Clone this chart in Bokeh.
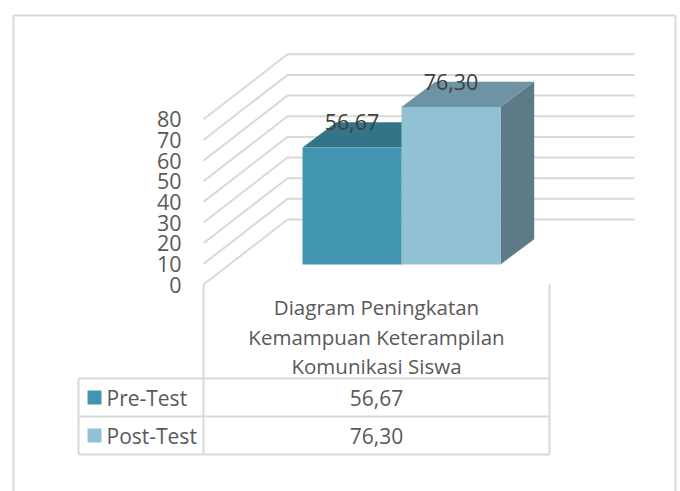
from bokeh.plotting import figure
from bokeh.models import Range1d
from bokeh.core.properties import value
from bokeh.embed import file_html
from bokeh.resources import INLINE

# ---- data ----
series_names = ["Pre-Test", "Post-Test"]
series_values = [56.67, 76.30]
series_labels = ["56,67", "76,30"]
y_ticks = [0, 10, 20, 30, 40, 50, 60, 70, 80]
category_lines = ["Diagram Peningkatan", "Kemampuan Keterampilan", "Komunikasi Siswa"]

# ---- styles / layout ----
front_colors = ["#4295B0", "#92C1D4"]
top_colors = ["#337488", "#6E94A3"]
side_colors = ["#31687A", "#5C7B87"]
GRID = "#D9D9D9"
FONT = "Open Sans"
FS = "20.5px"
FS_TICK = "21.5px"
FS_TABLE = "21px"
W, H = 680, 491
ORIGIN = 0
PX_PER_UNIT = 2.065
Y0_PX = 284.0          # picture pixel of value 0 on the axis edge


def vy(py):
    """Picture pixel row -> position in value units."""
    return (Y0_PX - py) / PX_PER_UNIT


p = figure(width=W, height=H, output_backend="svg", toolbar_location=None,
           x_range=Range1d(ORIGIN, ORIGIN + W), y_range=Range1d(vy(ORIGIN + H), vy(ORIGIN)),
           min_border=0, outline_line_color=None, background_fill_color="white",
           border_fill_color="white")
p.axis.visible = False
p.grid.visible = False

# outer frame (runs off the bottom of the picture)
fx0, fx1, fy0 = 13, 675, 15
p.line([fx0, fx0, fx1, fx1], [vy(ORIGIN + H), vy(fy0), vy(fy0), vy(ORIGIN + H)],
       line_color=GRID, line_width=2)

# gridlines with 3D depth
wall_x0, wall_x1, wall_x2 = 203, 287, 634
wall_dv = vy(219)
p.multi_line([[wall_x0, wall_x1, wall_x2] for _ in y_ticks],
             [[t, t + wall_dv, t + wall_dv] for t in y_ticks],
             line_color=GRID, line_width=2)

# bars
bar_x = [302, 401, 500]
base = vy(264)
dx, dv = 33.7, 25.3 / PX_PER_UNIT
for i, v in enumerate(series_values):
    x0, x1 = bar_x[i], bar_x[i + 1]
    top = base + v
    p.patch([x1, x1 + dx, x1 + dx, x1], [base, base + dv, top + dv, top],
            fill_color=side_colors[i], line_color=None)
    p.patch([x0, x1, x1 + dx, x0 + dx], [top, top, top + dv, top + dv],
            fill_color=top_colors[i], line_color=None)
    p.quad(left=x0, right=x1, bottom=base, top=top, fill_color=front_colors[i], line_color=None)
    p.text([(x0 + x1) / 2], [top + dv], text=[series_labels[i]], text_align="center",
           text_baseline="middle", text_font=value(FONT), text_font_size=FS_TICK,
           text_color="#404040")

# y tick labels
p.text([181] * len(y_ticks), y_ticks, text=[str(t) for t in y_ticks], text_align="right",
       text_baseline="middle", text_font=value(FONT), text_font_size=FS_TICK, text_color="#595959")

# data table
tx0, tx1, tx2 = 78, 203, 549
rows = [378, 416, 454]
segs_x = [[tx0, tx2] for _ in rows] + [[tx0, tx0], [tx1, tx1], [tx2, tx2]]
segs_y = [[vy(r), vy(r)] for r in rows] + [[vy(rows[0]), vy(rows[2])], [vy(284), vy(rows[2])],
                                            [vy(284), vy(rows[2])]]
p.multi_line(segs_x, segs_y, line_color=GRID, line_width=2)

center_x = (tx1 + tx2) / 2
for line, py in zip(category_lines, [306, 336, 365]):
    p.text([center_x], [vy(py)], text=[line], text_align="center", text_baseline="middle",
           text_font=value(FONT), text_font_size=FS, text_color="#595959")

for i, py in enumerate([397, 435]):
    p.quad(left=87, right=101, bottom=vy(py + 7), top=vy(py - 7), fill_color=front_colors[i],
           line_color=None)
    p.text([106], [vy(py)], text=[series_names[i]], text_align="left", text_baseline="middle",
           text_font=value(FONT), text_font_size=FS_TABLE, text_color="#595959")
    p.text([center_x], [vy(py)], text=[series_labels[i]], text_align="center",
           text_baseline="middle", text_font=value(FONT), text_font_size=FS_TABLE, text_color="#595959")

open("out.html", "w").write(file_html(p, INLINE))
